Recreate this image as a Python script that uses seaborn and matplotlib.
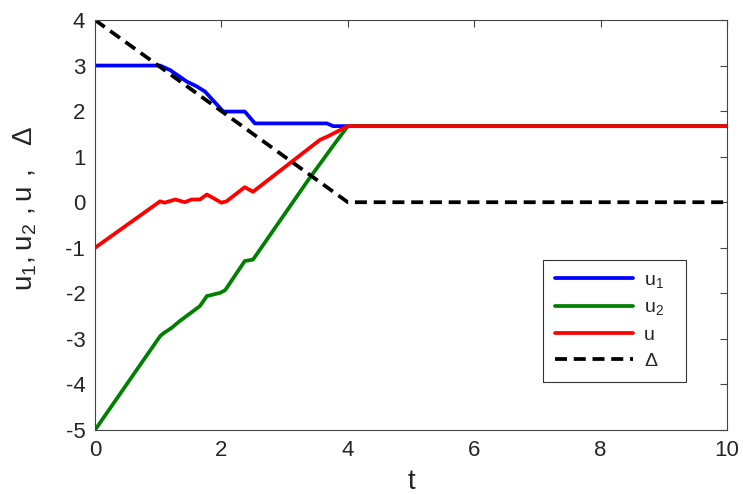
import matplotlib
matplotlib.use("Agg")
import matplotlib.pyplot as plt
import seaborn as sns
import pandas as pd

# data
t_u1 = [0, 1.03, 1.19, 1.45, 1.60, 1.74, 2.03, 2.37, 2.53, 3.67, 3.77, 4.0, 10.0]
u1 = [3.0, 3.0, 2.9, 2.65, 2.55, 2.43, 1.99, 1.99, 1.73, 1.73, 1.67, 1.67, 1.67]

t_u2 = [0, 1.03, 1.08, 1.21, 1.34, 1.66, 1.77, 1.98, 2.06, 2.37, 2.5, 3.37, 3.8, 4.0, 10.0]
u2 = [-5.0, -2.94, -2.88, -2.76, -2.61, -2.28, -2.06, -1.99, -1.93, -1.29, -1.26, 0.48, 1.3, 1.67, 1.67]

t_u = [0, 1.03, 1.1, 1.27, 1.42, 1.53, 1.66, 1.77, 2.0, 2.08, 2.37, 2.5, 3.56, 3.69, 4.0, 10.0]
u = [-1.0, 0.02, -0.01, 0.06, 0.0, 0.06, 0.06, 0.17, -0.01, 0.02, 0.33, 0.23, 1.37, 1.45, 1.67, 1.67]

t_d = [0, 4, 10]
delta = [4, 0, 0]

sns.set_style("white")
plt.rcParams['font.family'] = ['Liberation Sans', 'DejaVu Sans']
plt.rcParams['mathtext.fontset'] = 'custom'
plt.rcParams['mathtext.rm'] = 'Liberation Sans'
plt.rcParams['axes.unicode_minus'] = False

fig = plt.figure(figsize=(7.43, 4.94), dpi=100)
ax = fig.add_axes([95/743, 1-430/494, (727-95)/743, (430-20)/494])

lw = 2.7
sns.lineplot(x=t_u1, y=u1, ax=ax, color='#0000ff', lw=lw, label=r'$\mathregular{u_1}$')
sns.lineplot(x=t_u2, y=u2, ax=ax, color='#008000', lw=lw, label=r'$\mathregular{u_2}$')
sns.lineplot(x=t_u, y=u, ax=ax, color='#ff0000', lw=lw, label='u')
sns.lineplot(x=t_d, y=delta, ax=ax, color='black', lw=lw, linestyle=(0, (3.2, 1.8)), label='Δ')

ax.set_xlim(0, 10)
ax.set_ylim(-5, 4)
ax.set_xticks([0, 2, 4, 6, 8, 10])
ax.set_yticks(range(-5, 5))
ax.tick_params(direction='in', length=5, width=0.8, labelsize=16, top=True, right=True,
               color='#444444', pad=7)
for s in ax.spines.values():
    s.set_visible(True)
    s.set_color('#444444')
    s.set_linewidth(0.8)

ax.set_xlabel('t', fontsize=20, labelpad=6)
ax.set_ylabel(r'$\mathregular{u_1, u_2\ , u\ ,\ \ \Delta}$', fontsize=20)
ax.yaxis.set_label_coords(-0.089, 0.54)

leg = ax.legend(loc='upper left', bbox_to_anchor=(0.709, 0.0, 0.226, 0.415),
                mode='expand', borderaxespad=0,
                fontsize=14, frameon=True, fancybox=False, edgecolor='black',
                handlelength=4.0, borderpad=0.6, labelspacing=0.45, handletextpad=0.6)
leg.get_frame().set_linewidth(0.8)

fig.savefig('out.png', dpi=100)
